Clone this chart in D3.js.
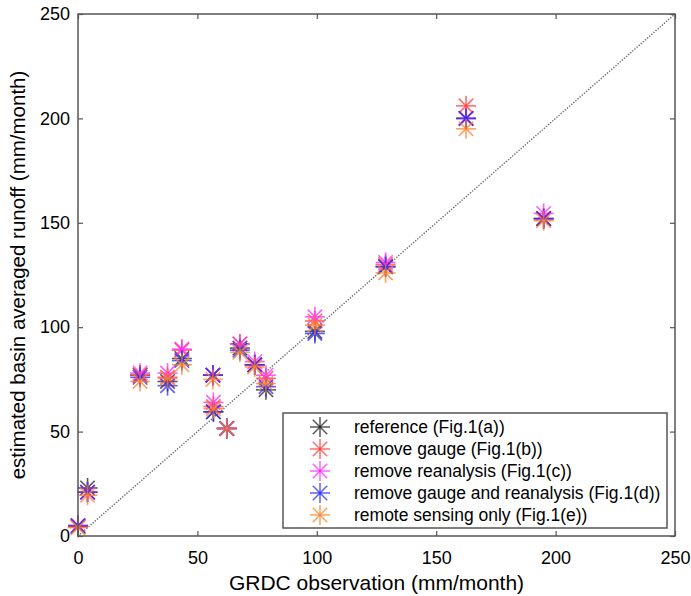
<!DOCTYPE html>
<html>
<head>
<meta charset="utf-8">
<script src="https://cdn.jsdelivr.net/npm/d3@7"></script>
<style>
  body { margin: 0; background: #fff; }
  text { font-family: "Liberation Sans", Arial, sans-serif; fill: #000; }
</style>
</head>
<body>
<script>
// GRDC observed runoff per basin (mm/month)
const observed = [0, 4, 26, 37.5, 43.5, 56.5, 56.7, 62.3, 67.8, 74, 78.7, 99.2, 128.8, 162.5, 195];

// estimated basin averaged runoff for each experiment
const reference = [4.5, 23, 77, 74, 85, 77, 59.5, 51.5, 90, 82, 70, 98, 129, 200, 152];
const removeGauge = [4.5, 21, 77, 76, 89, 77, 62, 51.5, 92, 82, 75.5, 103, 130, 206, 152];
const removeReanalysis = [5, 21, 78, 78, 89.5, 77, 64, 51.5, 92, 83.5, 77, 105, 131, 200, 154.5];
const removeBoth = [5, 21, 76, 72, 84, 77, 59.5, 51.5, 89, 82, 71.5, 97, 129, 200, 152];
const remoteOnly = [4, 19.5, 74, 75.5, 82, 75, 61, 51.5, 88, 81, 73, 101, 126, 195, 151];

const seriesNames = [
  "reference (Fig.1(a))",
  "remove gauge (Fig.1(b))",
  "remove reanalysis (Fig.1(c))",
  "remove gauge and reanalysis (Fig.1(d))",
  "remote sensing only (Fig.1(e))"
];
const seriesValues = [reference, removeGauge, removeReanalysis, removeBoth, remoteOnly];
const seriesColors = ["#202020", "#ff3c3c", "#ff28ff", "#2828ff", "#ff7f27"];
const ticks = [0, 50, 100, 150, 200, 250];

const margin = { top: 14, right: 16, bottom: 60, left: 78 };
const width = 691 - margin.left - margin.right;
const height = 596 - margin.top - margin.bottom;

const x = d3.scaleLinear().domain([0, 250]).range([0, width]);
const y = d3.scaleLinear().domain([0, 250]).range([height, 0]);

const svg = d3.select("body").append("svg")
  .attr("width", 691)
  .attr("height", 596);

const g = svg.append("g")
  .attr("transform", `translate(${margin.left},${margin.top})`);

// 1:1 line
g.append("line")
  .attr("x1", x(0)).attr("y1", y(0))
  .attr("x2", x(250)).attr("y2", y(250))
  .attr("stroke", "#666")
  .attr("stroke-width", 1.4)
  .attr("stroke-dasharray", "1.3,1.5");

// asterisk marker
function star(sel, r) {
  const d = r * 0.72;
  sel.append("line").attr("x1", -r).attr("x2", r).attr("y1", 0).attr("y2", 0);
  sel.append("line").attr("x1", 0).attr("x2", 0).attr("y1", -r).attr("y2", r);
  sel.append("line").attr("x1", -d).attr("x2", d).attr("y1", -d).attr("y2", d);
  sel.append("line").attr("x1", -d).attr("x2", d).attr("y1", d).attr("y2", -d);
}

seriesValues.forEach((vals, i) => {
  const pts = g.append("g")
    .attr("stroke", seriesColors[i])
    .attr("stroke-width", 1.6)
    .attr("stroke-opacity", 0.75)
    .selectAll("g")
    .data(vals.map((v, j) => ({ x: observed[j], y: v })))
    .join("g")
    .attr("transform", d => `translate(${x(d.x)},${y(d.y)})`);
  star(pts, 10);
});

// axes (box with inward ticks)
const axisColor = "#555";
function styleAxis(a) {
  a.select(".domain").remove();
  a.selectAll(".tick line").attr("stroke", axisColor).attr("stroke-width", 1.2);
  a.selectAll("text").style("font-size", "18px")
    .style("font-family", "Liberation Sans, Arial, sans-serif");
}

g.append("g")
  .attr("transform", `translate(0,${height})`)
  .call(d3.axisBottom(x).tickValues(ticks).tickSize(-5).tickPadding(15))
  .call(styleAxis);

g.append("g")
  .call(d3.axisLeft(y).tickValues(ticks).tickSize(-5).tickPadding(8))
  .call(styleAxis);

g.append("g")
  .call(d3.axisTop(x).tickValues(ticks).tickSize(-5).tickFormat(""))
  .call(styleAxis);

g.append("g")
  .attr("transform", `translate(${width},0)`)
  .call(d3.axisRight(y).tickValues(ticks).tickSize(-5).tickFormat(""))
  .call(styleAxis);

g.append("rect")
  .attr("width", width).attr("height", height)
  .attr("fill", "none")
  .attr("stroke", axisColor)
  .attr("stroke-width", 1.5);

// axis titles
svg.append("text")
  .attr("x", margin.left + width / 2)
  .attr("y", 590)
  .attr("text-anchor", "middle")
  .style("font-size", "21px")
  .text("GRDC observation (mm/month)");

svg.append("text")
  .attr("transform", `translate(25,${margin.top + height / 2}) rotate(-90)`)
  .attr("text-anchor", "middle")
  .style("font-size", "20.5px")
  .text("estimated basin averaged runoff (mm/month)");

// legend
const legend = svg.append("g").attr("transform", "translate(283,413)");
legend.append("rect")
  .attr("width", 384).attr("height", 115)
  .attr("fill", "#fff")
  .attr("stroke", "#555")
  .attr("stroke-width", 1.5);

seriesNames.forEach((name, i) => {
  const row = legend.append("g").attr("transform", `translate(0,${14 + i * 22})`);
  const m = row.append("g")
    .attr("transform", "translate(37,0)")
    .attr("stroke", seriesColors[i])
    .attr("stroke-width", 1.5)
    .attr("stroke-opacity", 0.75);
  star(m, 10);
  row.append("text")
    .attr("x", 71)
    .attr("y", 6)
    .style("font-size", "17.5px")
    .text(name);
});
</script>
</body>
</html>
